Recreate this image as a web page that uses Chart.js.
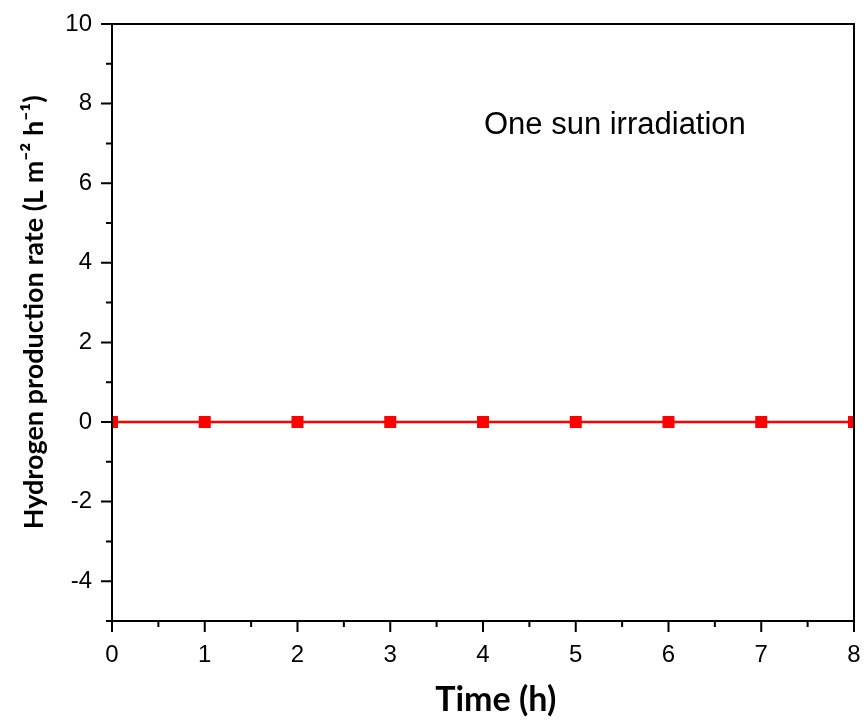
<!DOCTYPE html>
<html>
<head>
<meta charset="utf-8">
<script src="https://cdn.jsdelivr.net/npm/chart.js@4.4.1/dist/chart.umd.min.js"></script>
<style>
  html, body { margin: 0; padding: 0; background: #ffffff; }
  #wrap { width: 864px; height: 722px; }
</style>
</head>
<body>
<div id="wrap"><canvas id="c" width="864" height="722"></canvas></div>
<script>
// ---- data ----
const timeHours = [0, 1, 2, 3, 4, 5, 6, 7, 8];
const hydrogenRate = [0, 0, 0, 0, 0, 0, 0, 0, 0];
const xMajorTicks = [0, 1, 2, 3, 4, 5, 6, 7, 8];
const xMinorTicks = [0.5, 1.5, 2.5, 3.5, 4.5, 5.5, 6.5, 7.5];
const yMajorTicks = [-4, -2, 0, 2, 4, 6, 8, 10];
const yMinorTicks = [-5, -3, -1, 1, 3, 5, 7, 9];
const annotationText = 'One sun irradiation';

const points = timeHours.map((t, i) => ({ x: t, y: hydrogenRate[i] }));

function resetPadding(scale) {
  scale.paddingTop = 0; scale.paddingBottom = 0;
  scale.paddingLeft = 0; scale.paddingRight = 0;
}

const axisPlugin = {
  id: 'axisPlugin',
  afterDraw(chart) {
    const { ctx, chartArea: a, scales } = chart;
    const xs = scales.x, ys = scales.y;
    ctx.save();
    ctx.strokeStyle = '#000';
    ctx.lineWidth = 2;
    ctx.lineCap = 'butt';
    ctx.strokeRect(a.left, a.top, a.right - a.left, a.bottom - a.top);
    ctx.beginPath();
    yMajorTicks.forEach(v => { const p = ys.getPixelForValue(v); ctx.moveTo(a.left - 11, p); ctx.lineTo(a.left, p); });
    yMinorTicks.forEach(v => { const p = ys.getPixelForValue(v); ctx.moveTo(a.left - 6, p); ctx.lineTo(a.left, p); });
    xMajorTicks.forEach(v => { const p = xs.getPixelForValue(v); ctx.moveTo(p, a.bottom); ctx.lineTo(p, a.bottom + 11); });
    xMinorTicks.forEach(v => { const p = xs.getPixelForValue(v); ctx.moveTo(p, a.bottom); ctx.lineTo(p, a.bottom + 6); });
    ctx.stroke();
    ctx.fillStyle = '#000';
    ctx.font = '31px "Liberation Sans", Arial, sans-serif';
    ctx.textAlign = 'left';
    ctx.textBaseline = 'middle';
    ctx.fillText(annotationText, xs.getPixelForValue(4.01), ys.getPixelForValue(7.45));
    ctx.restore();
  }
};

new Chart(document.getElementById('c'), {
  type: 'line',
  data: {
    datasets: [{
      data: points,
      borderColor: '#ff0000',
      backgroundColor: '#ff0000',
      borderWidth: 2.5,
      pointStyle: 'rect',
      pointRadius: 8.5,
      pointHoverRadius: 8.5,
      pointBorderWidth: 0,
      tension: 0
    }]
  },
  options: {
    responsive: false,
    animation: false,
    events: [],
    layout: { padding: { top: 24, right: 10, left: 0, bottom: 0 } },
    plugins: { legend: { display: false }, tooltip: { enabled: false } },
    scales: {
      x: {
        type: 'linear',
        min: 0, max: 8,
        grid: { display: false },
        border: { display: false },
        afterBuildTicks(scale) { scale.ticks = xMajorTicks.map(v => ({ value: v })); },
        afterFit(scale) { scale.height = 101; resetPadding(scale); },
        ticks: {
          color: '#000',
          padding: 12,
          maxRotation: 0,
          font: { family: '"Liberation Sans", Arial, sans-serif', size: 24 },
          callback: v => String(v)
        },
        title: {
          display: true,
          text: '\u2003Time (h)',
          color: '#000',
          padding: { top: 0, bottom: 2 },
          font: { family: 'Lato, "Open Sans", sans-serif', size: 34, weight: 'bold' }
        }
      },
      y: {
        min: -5, max: 10,
        grid: { display: false },
        border: { display: false },
        afterBuildTicks(scale) { scale.ticks = yMajorTicks.map(v => ({ value: v })); },
        afterFit(scale) { scale.width = 112; resetPadding(scale); },
        ticks: {
          color: '#000',
          padding: 12,
          font: { family: '"Liberation Sans", Arial, sans-serif', size: 24 },
          callback: v => String(v)
        },
        title: {
          display: true,
          text: '\u2003Hydrogen production rate (L m\u207B\u00B2 h\u207B\u00B9)',
          color: '#000',
          padding: { top: 18, bottom: 0 },
          font: { family: 'Lato, "Open Sans", sans-serif', size: 27, weight: 'bold' }
        }
      }
    }
  },
  plugins: [axisPlugin]
});
</script>
</body>
</html>
